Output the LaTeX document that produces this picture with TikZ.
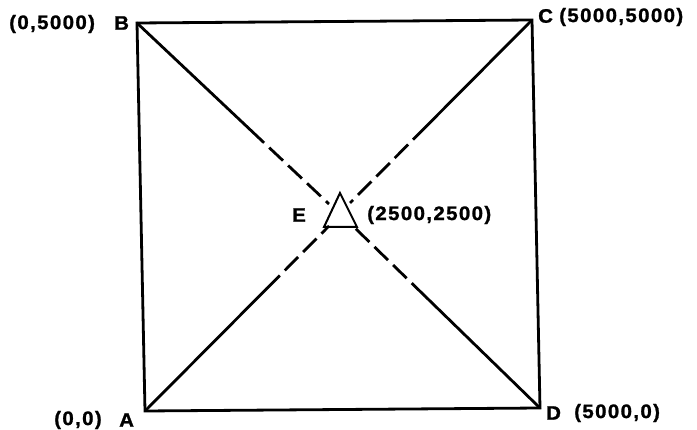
\documentclass[tikz,border=0pt]{standalone}
\usepackage{fontspec}
\usetikzlibrary{calc}
\newfontfamily\labfont[FakeStretch=1.05,LetterSpace=7,FakeBold=1.2]{Liberation Sans Bold}
\begin{document}
\begin{tikzpicture}[x=1pt,y=-1pt,
  edge/.style={line width=2.8pt, line cap=round, line join=miter},
  dashpart/.style={line width=2.8pt, dash pattern=on 19pt off 7pt},
  lab/.style={font=\labfont\fontsize{19.5}{22}\selectfont, inner sep=0pt, text=black}]
\useasboundingbox (0,0) rectangle (697,430);
\coordinate (A) at (145,411);
\coordinate (B) at (137,23);
\coordinate (C) at (532,20);
\coordinate (D) at (540,408);
% triangle E
\coordinate (Et) at (340,193);
\coordinate (El) at (324,227);
\coordinate (Er) at (357,227);
% diagonal solid/dashed transitions
\coordinate (b2) at (329,204);
\coordinate (c2) at (350,203);
\coordinate (a2) at (329,226);
\coordinate (d2) at (355,228);
\coordinate (b1) at ($(B)!0.59!(b2)$);
\coordinate (c1) at ($(C)!0.58!(c2)$);
\coordinate (a1) at ($(A)!0.66!(a2)$);
\coordinate (d1) at ($(D)!0.62!(d2)$);
\draw[edge] (A) -- (B) -- (C) -- (D) -- cycle;
\draw[edge] (B) -- (b1); \draw[dashpart] (b1) -- (b2);
\draw[edge] (C) -- (c1); \draw[dashpart] (c1) -- (c2);
\draw[edge] (A) -- (a1); \draw[dashpart] (a1) -- (a2);
\draw[edge] (D) -- (d1); \draw[dashpart] (d1) -- (d2);
\draw[line width=2pt, line join=miter] (Et) -- (El) -- (Er) -- cycle;
% labels
\node[lab, anchor=west] (lB) at (114,23) {B};
\node[lab, anchor=west] (lBc) at (9,24) {(0,5000)};
\node[lab, anchor=west] (lC) at (538,16) {C};
\node[lab, anchor=west] (lCc) at (559,17) {(5000,5000)};
\node[lab, anchor=west] (lE) at (292,215) {E};
\node[lab, anchor=west] (lEc) at (367,215) {(2500,2500)};
\node[lab, anchor=west] (lA) at (119,420) {A};
\node[lab, anchor=west] (lAc) at (54,420) {(0,0)};
\node[lab, anchor=west] (lD) at (546,413) {D};
\node[lab, anchor=west] (lDc) at (574,413) {(5000,0)};
\end{tikzpicture}
\end{document}
